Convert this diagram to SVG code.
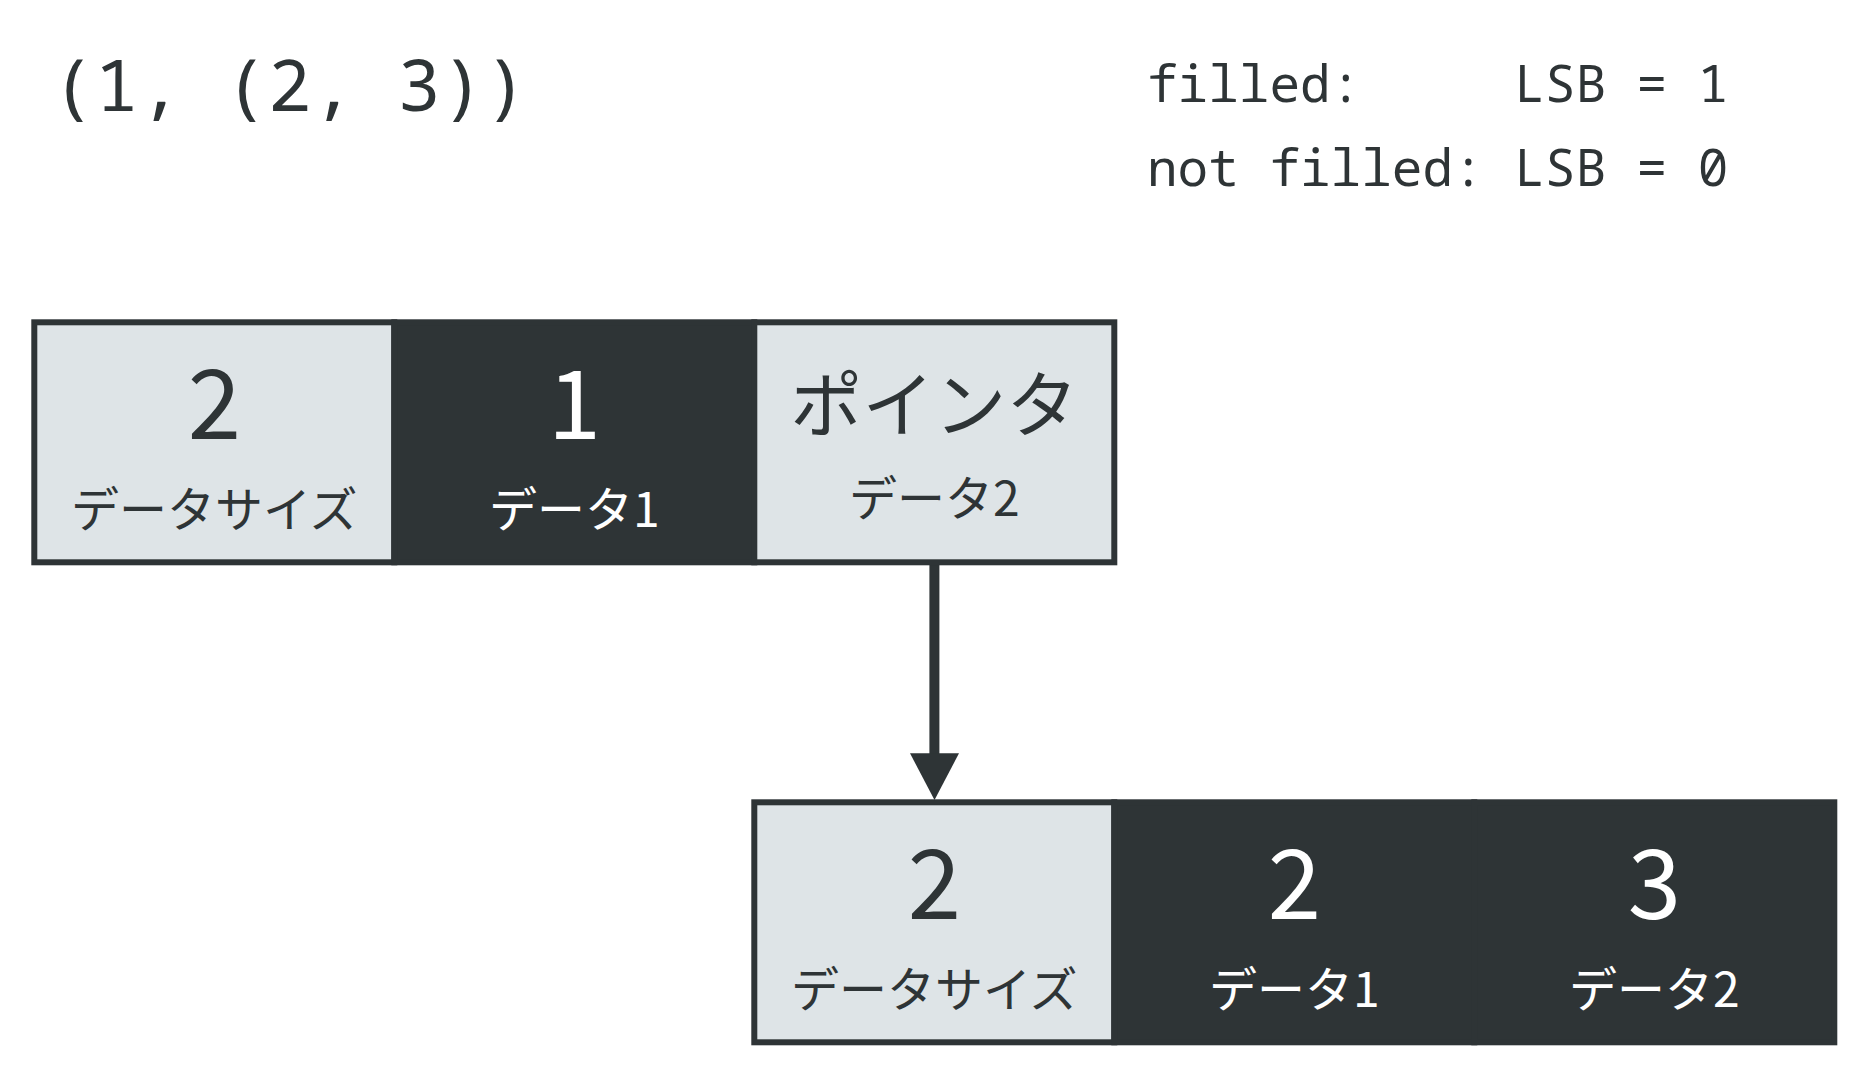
<svg xmlns="http://www.w3.org/2000/svg" width="1866" height="1074" viewBox="0 0 1866 1074">
<style>
.light { fill:#dee4e7; stroke:#2e3436; stroke-width:6; }
.dark { fill:#2e3436; stroke:#2e3436; stroke-width:6; }
.jp { font-family:"Noto Sans CJK JP","Noto Sans",sans-serif; text-anchor:middle; }
.big { font-size:96px; }
.ptr { font-size:72px; }
.lbl { font-size:48px; }
.onlight { fill:#2e3436; }
.ondark { fill:#ffffff; }
.mono { font-family:"Noto Sans Mono","DejaVu Sans Mono","Liberation Mono",monospace; fill:#2e3436; white-space:pre; }
.conn { stroke:#2e3436; stroke-width:10; fill:none; }
.head { fill:#2e3436; }
</style>
<rect width="1866" height="1074" fill="#ffffff"/>
<g id="title">
<text class="mono" x="289.5" y="111" font-size="72" text-anchor="middle">(1, (2, 3))</text>
</g>
<g id="legend">
<text class="mono" x="1147" y="102" font-size="51" xml:space="preserve">filled:     LSB = 1</text>
<text class="mono" x="1147" y="186" font-size="51" xml:space="preserve">not filled: LSB = 0</text>
</g>
<g id="connectors">
<line class="conn" x1="934.4" y1="562" x2="934.4" y2="756"/>
<polygon class="head" points="910,753.3 959,753.3 934.5,800"/>
</g>
<g id="tuple-outer">
<g id="outer-size">
<rect class="light" x="34.3" y="322.3" width="360" height="240"/>
<text class="jp big onlight" x="214.3" y="439">2</text>
<text class="jp lbl onlight" x="214.3" y="527">データサイズ</text>
</g>
<g id="outer-data1">
<rect class="dark" x="394.3" y="322.3" width="360" height="240"/>
<text class="jp big ondark" x="574.3" y="439">1</text>
<text class="jp lbl ondark" x="574.3" y="527">データ1</text>
</g>
<g id="outer-data2">
<rect class="light" x="754.3" y="322.3" width="360" height="240"/>
<text class="jp ptr onlight" x="934.3" y="431">ポインタ</text>
<text class="jp lbl onlight" x="934.3" y="515.5">データ2</text>
</g>
</g>
<g id="tuple-inner">
<g id="inner-size">
<rect class="light" x="754.3" y="802.3" width="360" height="240"/>
<text class="jp big onlight" x="934.3" y="919">2</text>
<text class="jp lbl onlight" x="934.3" y="1007">データサイズ</text>
</g>
<g id="inner-data1">
<rect class="dark" x="1114.3" y="802.3" width="360" height="240"/>
<text class="jp big ondark" x="1294.3" y="919">2</text>
<text class="jp lbl ondark" x="1294.3" y="1007">データ1</text>
</g>
<g id="inner-data2">
<rect class="dark" x="1474.3" y="802.3" width="360" height="240"/>
<text class="jp big ondark" x="1654.3" y="919">3</text>
<text class="jp lbl ondark" x="1654.3" y="1007">データ2</text>
</g>
</g>
</svg>
